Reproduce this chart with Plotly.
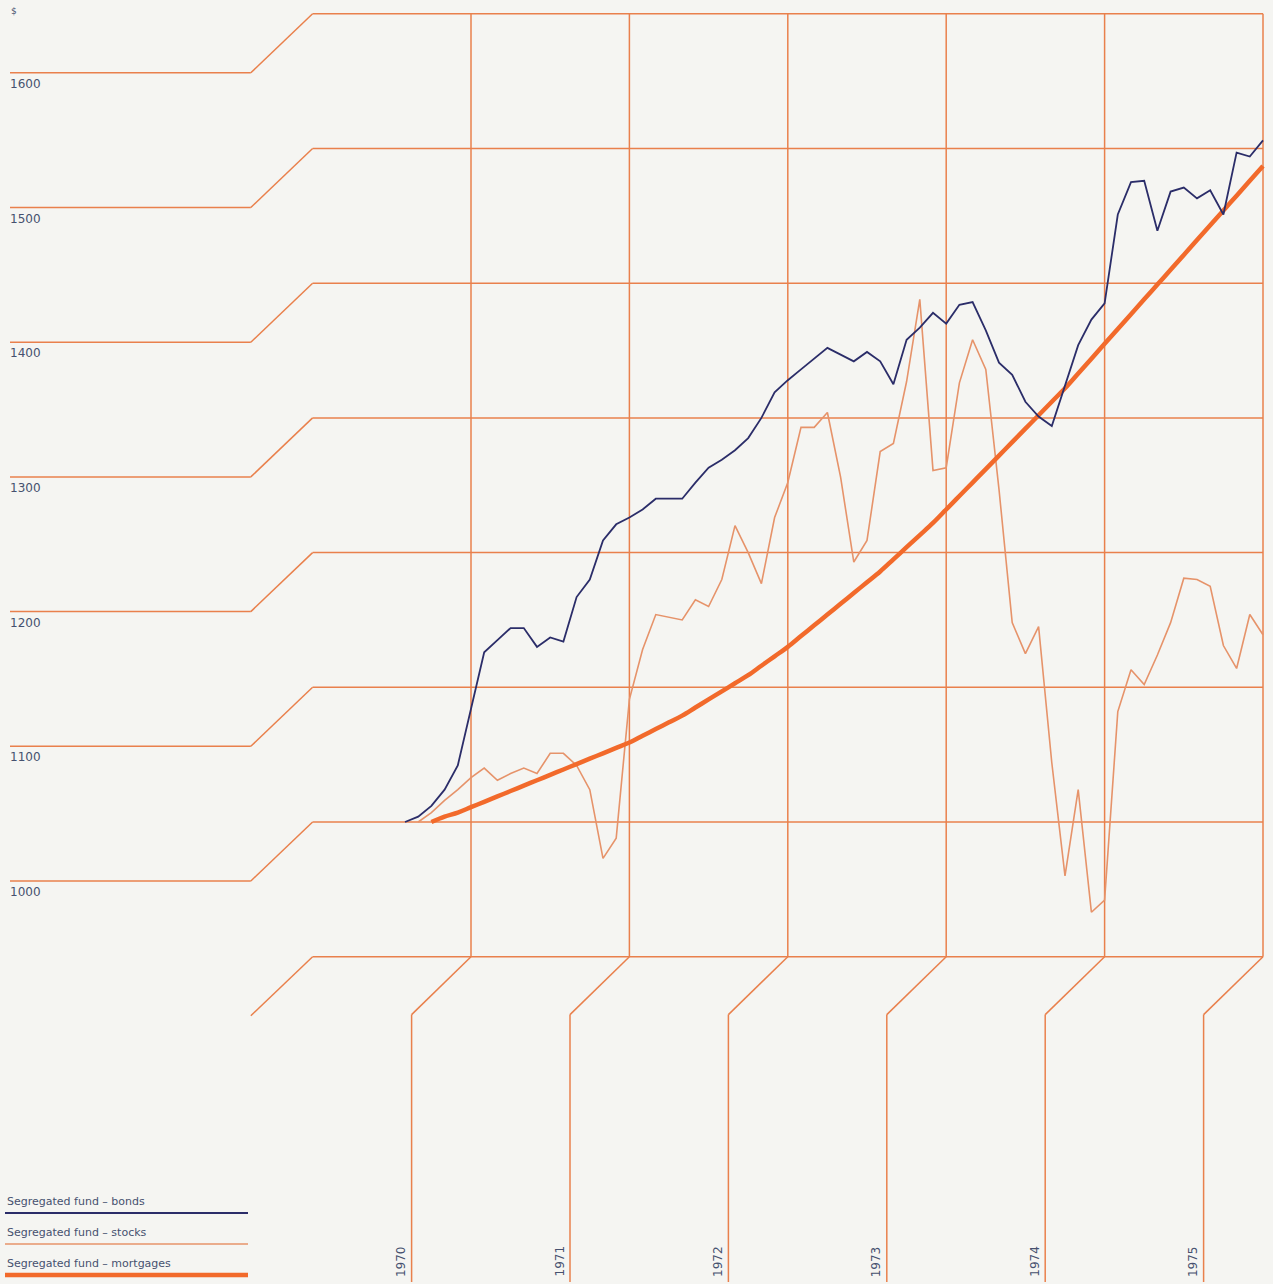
import pandas as pd
import plotly.graph_objects as go

# ---------------- data ----------------
months = pd.period_range("1970-07", "1975-12", freq="M")  # month-end values
year_labels = ["1970", "1971", "1972", "1973", "1974", "1975"]
value_ticks = [900, 1000, 1100, 1200, 1300, 1400, 1500, 1600]
labelled_ticks = ["", "1000", "1100", "1200", "1300", "1400", "1500", "1600"]

bonds = [1000, 1004, 1012, 1024, 1042, 1084, 1126, 1135, 1144, 1144, 1130, 1137,
         1134, 1167, 1180, 1209, 1221, 1226, 1232, 1240, 1240, 1240, 1252, 1263,
         1269, 1276, 1285, 1300, 1319, 1328, 1336, 1344, 1352, 1347, 1342, 1349,
         1342, 1325, 1358, 1367, 1378, 1370, 1384, 1386, 1365, 1341, 1332, 1312,
         1301, 1294, 1324, 1354, 1373, 1385, 1451, 1475, 1476, 1439, 1468, 1471,
         1463, 1469, 1451, 1497, 1494, 1506]

stocks = [None, 1000, 1007, 1016, 1024, 1033, 1040, 1031, 1036, 1040, 1036, 1051,
          1051, 1042, 1024, 973, 988, 1091, 1128, 1154, 1152, 1150, 1165, 1160,
          1180, 1220, 1200, 1177, 1226, 1252, 1293, 1293, 1304, 1256, 1193, 1209,
          1275, 1281, 1327, 1388, 1261, 1263, 1326, 1358, 1336, 1247, 1148, 1125,
          1145, 1044, 960, 1024, 933, 942, 1082, 1113, 1102, 1124, 1148, 1181,
          1180, 1175, 1131, 1114, 1154, 1139]

mortgages = [None, None, 1000, 1004, 1007, 1011, 1015, 1019, 1023, 1027, 1031, 1035,
             1039, 1043, 1047, 1051, 1055, 1059, 1064, 1069, 1074, 1079, 1085, 1091,
             1097, 1103, 1109, 1116, 1123, 1130, 1138, 1146, 1154, 1162, 1170, 1178,
             1186, 1195, 1204, 1213, 1222, 1232, 1242, 1252, 1262, 1272, 1282, 1292,
             1302, 1312, 1322, 1333, 1344, 1355, 1366, 1377, 1388, 1399, 1410, 1421,
             1432, 1443, 1454, 1465, 1476, 1487]

series_names = ["Segregated fund \u2013 bonds", "Segregated fund \u2013 stocks",
                "Segregated fund \u2013 mortgages"]

# month-end position in decimal years
x_t = [p.year + p.month / 12 for p in months]

# ---------------- styling / layout helpers ----------------
W, H = 1273, 1284
BG = "#f5f5f2"
GRID = "#e9804c"
STOCK_C = "#e6936a"
MORT_C = "#f26a2b"
BOND_C = "#2b2d69"
TEXT_C = "#46516f"
FONT = "DejaVu Sans"

PX_PER_YEAR = 158.4
PX_PER_UNIT = 1.347


def tx(px):
    return 1971 + (px - 471) / PX_PER_YEAR


def vy(py):
    return 1000 + (822 - py) / PX_PER_UNIT


GRID_X0, GRID_X1 = 1970.0, 1976.0
DIAG_DX = 0.39        # years, horizontal diagonal offset on the left
DIAG_DV = 43.8        # value units drop of the left label lines
VDIAG_DX = 0.375      # years, diagonal of the vertical (year) lines
VDIAG_DV = 43.0

shapes = []
annotations = []


def seg(x0, y0, x1, y1, color=GRID, width=1.5, layer="below"):
    shapes.append(dict(type="line", xref="x", yref="y", x0=x0, y0=y0, x1=x1, y1=y1,
                       line=dict(color=color, width=width), layer=layer))


top_v, bot_v = max(value_ticks), min(value_ticks)

# horizontal grid lines with offset label lines on the left
for v, lab in zip(value_ticks, labelled_ticks):
    seg(GRID_X0, v, GRID_X1, v)
    seg(GRID_X0, v, GRID_X0 - DIAG_DX, v - DIAG_DV)
    if lab:
        seg(GRID_X0 - DIAG_DX, v - DIAG_DV, tx(10), v - DIAG_DV)
        annotations.append(dict(x=tx(8), y=v - DIAG_DV, xref="x", yref="y", text=lab,
                                showarrow=False, xanchor="left", yanchor="top", yshift=-2,
                                font=dict(family=FONT, size=12, color=TEXT_C)))

# vertical year lines dropping to the labels at the bottom
for i, lab in enumerate(year_labels):
    yr = 1971 + i
    seg(yr, top_v, yr, bot_v)
    seg(yr, bot_v, yr - VDIAG_DX, bot_v - VDIAG_DV)
    seg(yr - VDIAG_DX, bot_v - VDIAG_DV, yr - VDIAG_DX, vy(1282))
    annotations.append(dict(x=yr - VDIAG_DX, y=vy(1279), xref="x", yref="y", text=lab,
                            showarrow=False, textangle=-90, xanchor="right", yanchor="bottom",
                            xshift=-2, font=dict(family=FONT, size=12, color=TEXT_C)))

# unit sign
annotations.append(dict(x=tx(9), y=vy(4), xref="x", yref="y", text="$", showarrow=False,
                        xanchor="left", yanchor="top", font=dict(family=FONT, size=9, color=TEXT_C)))

# legend (custom, bottom-left)
legend_rows = [(series_names[0], BOND_C, 2, 1213),
               (series_names[1], STOCK_C, 1.5, 1244),
               (series_names[2], MORT_C, 4.5, 1275)]
for name, col, wdt, py in legend_rows:
    seg(tx(5), vy(py), tx(248), vy(py), color=col, width=wdt, layer="above")
    annotations.append(dict(x=tx(5), y=vy(py), xref="x", yref="y", text=name, showarrow=False,
                            xanchor="left", yanchor="bottom", yshift=3,
                            font=dict(family=FONT, size=11, color=TEXT_C)))

# ---------------- figure ----------------
fig = go.Figure()
fig.add_trace(go.Scatter(x=x_t, y=stocks, mode="lines", name=series_names[1],
                         line=dict(color=STOCK_C, width=1.6)))
fig.add_trace(go.Scatter(x=x_t, y=mortgages, mode="lines", name=series_names[2],
                         line=dict(color=MORT_C, width=4.5, shape="spline", smoothing=1.0)))
fig.add_trace(go.Scatter(x=x_t, y=bonds, mode="lines", name=series_names[0],
                         line=dict(color=BOND_C, width=1.8)))

fig.update_layout(
    width=W, height=H,
    margin=dict(l=0, r=0, t=0, b=0),
    paper_bgcolor=BG, plot_bgcolor=BG,
    showlegend=False,
    shapes=shapes, annotations=annotations,
    xaxis=dict(range=[tx(0), tx(W)], visible=False, fixedrange=True),
    yaxis=dict(range=[vy(H), vy(0)], visible=False, fixedrange=True),
)

fig.write_html("out.html", config={"displayModeBar": False},
               post_script="document.body.style.margin='0';document.body.style.overflow='hidden';")
